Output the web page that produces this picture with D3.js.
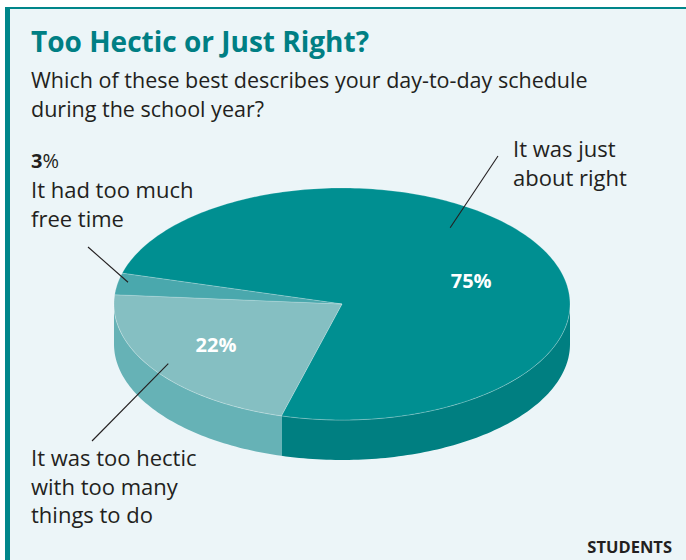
<!DOCTYPE html>
<html>
<head>
<meta charset="utf-8">
<script src="https://cdn.jsdelivr.net/npm/d3@7"></script>
<style>
  body { margin: 0; background: #fff; }
  svg text { font-family: "Open Sans", "Noto Sans", sans-serif; }
</style>
</head>
<body>
<div id="container"></div>
<script>
// data
const answers = ["It was just about right", "It was too hectic with too many things to do", "It had too much free time"]
const shares = [75, 22, 3]
const shareLabels = ["75%", "22%", "3%"]

// Constants and globals
const width = 686,
  height = 560,
  cx = 342, cy = 304,   // centre of the top face
  rx = 228, ry = 116,   // ellipse radii
  depth = 40,
  startDeg = 285.4

const topColors = ["#008f91", "#85bfc2", "#4aa8ad"]
const sideColors = ["#007f81", "#66b2b6", "#3f9ca0"]
const ink = "#231f20"

const svg = d3.select("#container")
  .append("svg")
  .attr("width", width)
  .attr("height", height)

// frame
svg.append("rect").attr("x", 0).attr("y", 0).attr("width", width).attr("height", height).attr("fill", "#fff")
svg.append("rect").attr("x", 5).attr("y", 8).attr("width", width - 5).attr("height", height - 8).attr("fill", "#ecf5f8")
svg.append("rect").attr("x", 5).attr("y", 7).attr("width", width - 5).attr("height", 2).attr("fill", "#00868a")
svg.append("rect").attr("x", 5).attr("y", 7).attr("width", 5).attr("height", height - 7).attr("fill", "#00868a")

// title
svg.append("text")
  .attr("x", 31).attr("y", 52)
  .attr("fill", "#007f84")
  .attr("font-size", 28).attr("font-weight", 700)
  .text("Too Hectic or Just Right?")

const sub = ["Which of these best describes your day-to-day schedule", "during the school year?"]
svg.append("g").selectAll("text")
  .data(sub)
  .join("text")
  .attr("x", 31).attr("y", (d, i) => 88 + i * 28.5)
  .attr("fill", ink).attr("font-size", 21.5)
  .text(d => d)

// pie
const pie = d3.pie().sort(null)
  .startAngle(startDeg * Math.PI / 180)
  .endAngle(startDeg * Math.PI / 180 + 2 * Math.PI)
const arcs = pie(shares)

// point on the ellipse, angle clockwise from 12 o'clock
const pt = (a, k = 1, dy = 0) => [cx + rx * k * Math.sin(a), cy - ry * k * Math.cos(a) + dy]

function rim(a0, a1, dy) {
  const n = Math.max(2, Math.ceil(Math.abs(a1 - a0) / 0.02))
  return d3.range(n + 1).map(i => pt(a0 + (a1 - a0) * i / n, 1, dy))
}

// sides (front half only: 90deg .. 270deg, shifted one turn to fit the pie range)
const visLo = 2.5 * Math.PI, visHi = 3.5 * Math.PI
const sides = svg.append("g")
arcs.forEach((d, i) => {
  const a0 = Math.max(d.startAngle, visLo), a1 = Math.min(d.endAngle, visHi)
  if (a1 <= a0) return
  const pts = rim(a0, a1, 0).concat(rim(a1, a0, depth))
  sides.append("path")
    .attr("d", d3.line()(pts) + "Z")
    .attr("fill", sideColors[i])
  sides.append("path")
    .attr("d", d3.line()(rim(a0, a1, 0)))
    .attr("fill", "none").attr("stroke", "#ffffff").attr("stroke-opacity", 0.35).attr("stroke-width", 0.8)
})

// top faces
svg.append("g").selectAll("path")
  .data(arcs)
  .join("path")
  .attr("d", d => d3.line()([[cx, cy]].concat(rim(d.startAngle, d.endAngle, 0))) + "Z")
  .attr("fill", (d, i) => topColors[i])
  .attr("stroke", "#ffffff").attr("stroke-opacity", 0.25).attr("stroke-width", 0.8)

// percentages inside
const inner = [{ a: 70.8, k: 0.6 }, { a: 237.7, k: 0.654 }]
svg.append("g").selectAll("text")
  .data(inner)
  .join("text")
  .attr("x", d => pt(d.a * Math.PI / 180, d.k)[0])
  .attr("y", d => pt(d.a * Math.PI / 180, d.k)[1] + 7)
  .attr("text-anchor", "middle")
  .attr("fill", "#fff").attr("font-size", 20).attr("font-weight", 700)
  .text((d, i) => shareLabels[i])

// leader lines
const leaders = [
  { a: 35.8, k: 0.811, x: 498, y: 156 },
  { a: 236, k: 0.919, x: 92, y: 441 },
  { a: 281.3, k: 0.957, x: 88, y: 247 }
]
svg.append("g").selectAll("line")
  .data(leaders)
  .join("line")
  .attr("x1", d => pt(d.a * Math.PI / 180, d.k)[0])
  .attr("y1", d => pt(d.a * Math.PI / 180, d.k)[1])
  .attr("x2", d => d.x).attr("y2", d => d.y)
  .attr("stroke", ink).attr("stroke-width", 1.1)

// outside annotations
const notes = [
  { x: 513, y: 157, lines: ["It was just", "about right"] },
  { x: 31, y: 466, lines: ["It was too hectic", "with too many", "things to do"] },
  { x: 31, y: 198, lines: ["It had too much", "free time"] }
]
notes.forEach(n => {
  svg.append("g").selectAll("text")
    .data(n.lines)
    .join("text")
    .attr("x", n.x).attr("y", (d, i) => n.y + i * 28.5)
    .attr("fill", ink).attr("font-size", 22)
    .text(d => d)
})

svg.append("text")
  .attr("x", 31).attr("y", 168)
  .attr("fill", ink).attr("font-size", 20)
  .html(`<tspan font-weight="700">${shareLabels[2].replace("%", "")}</tspan>%`)

svg.append("text")
  .attr("x", 672).attr("y", 553)
  .attr("text-anchor", "end")
  .attr("fill", ink).attr("font-size", 16.5).attr("font-weight", 700)
  .text("STUDENTS")
</script>
</body>
</html>
